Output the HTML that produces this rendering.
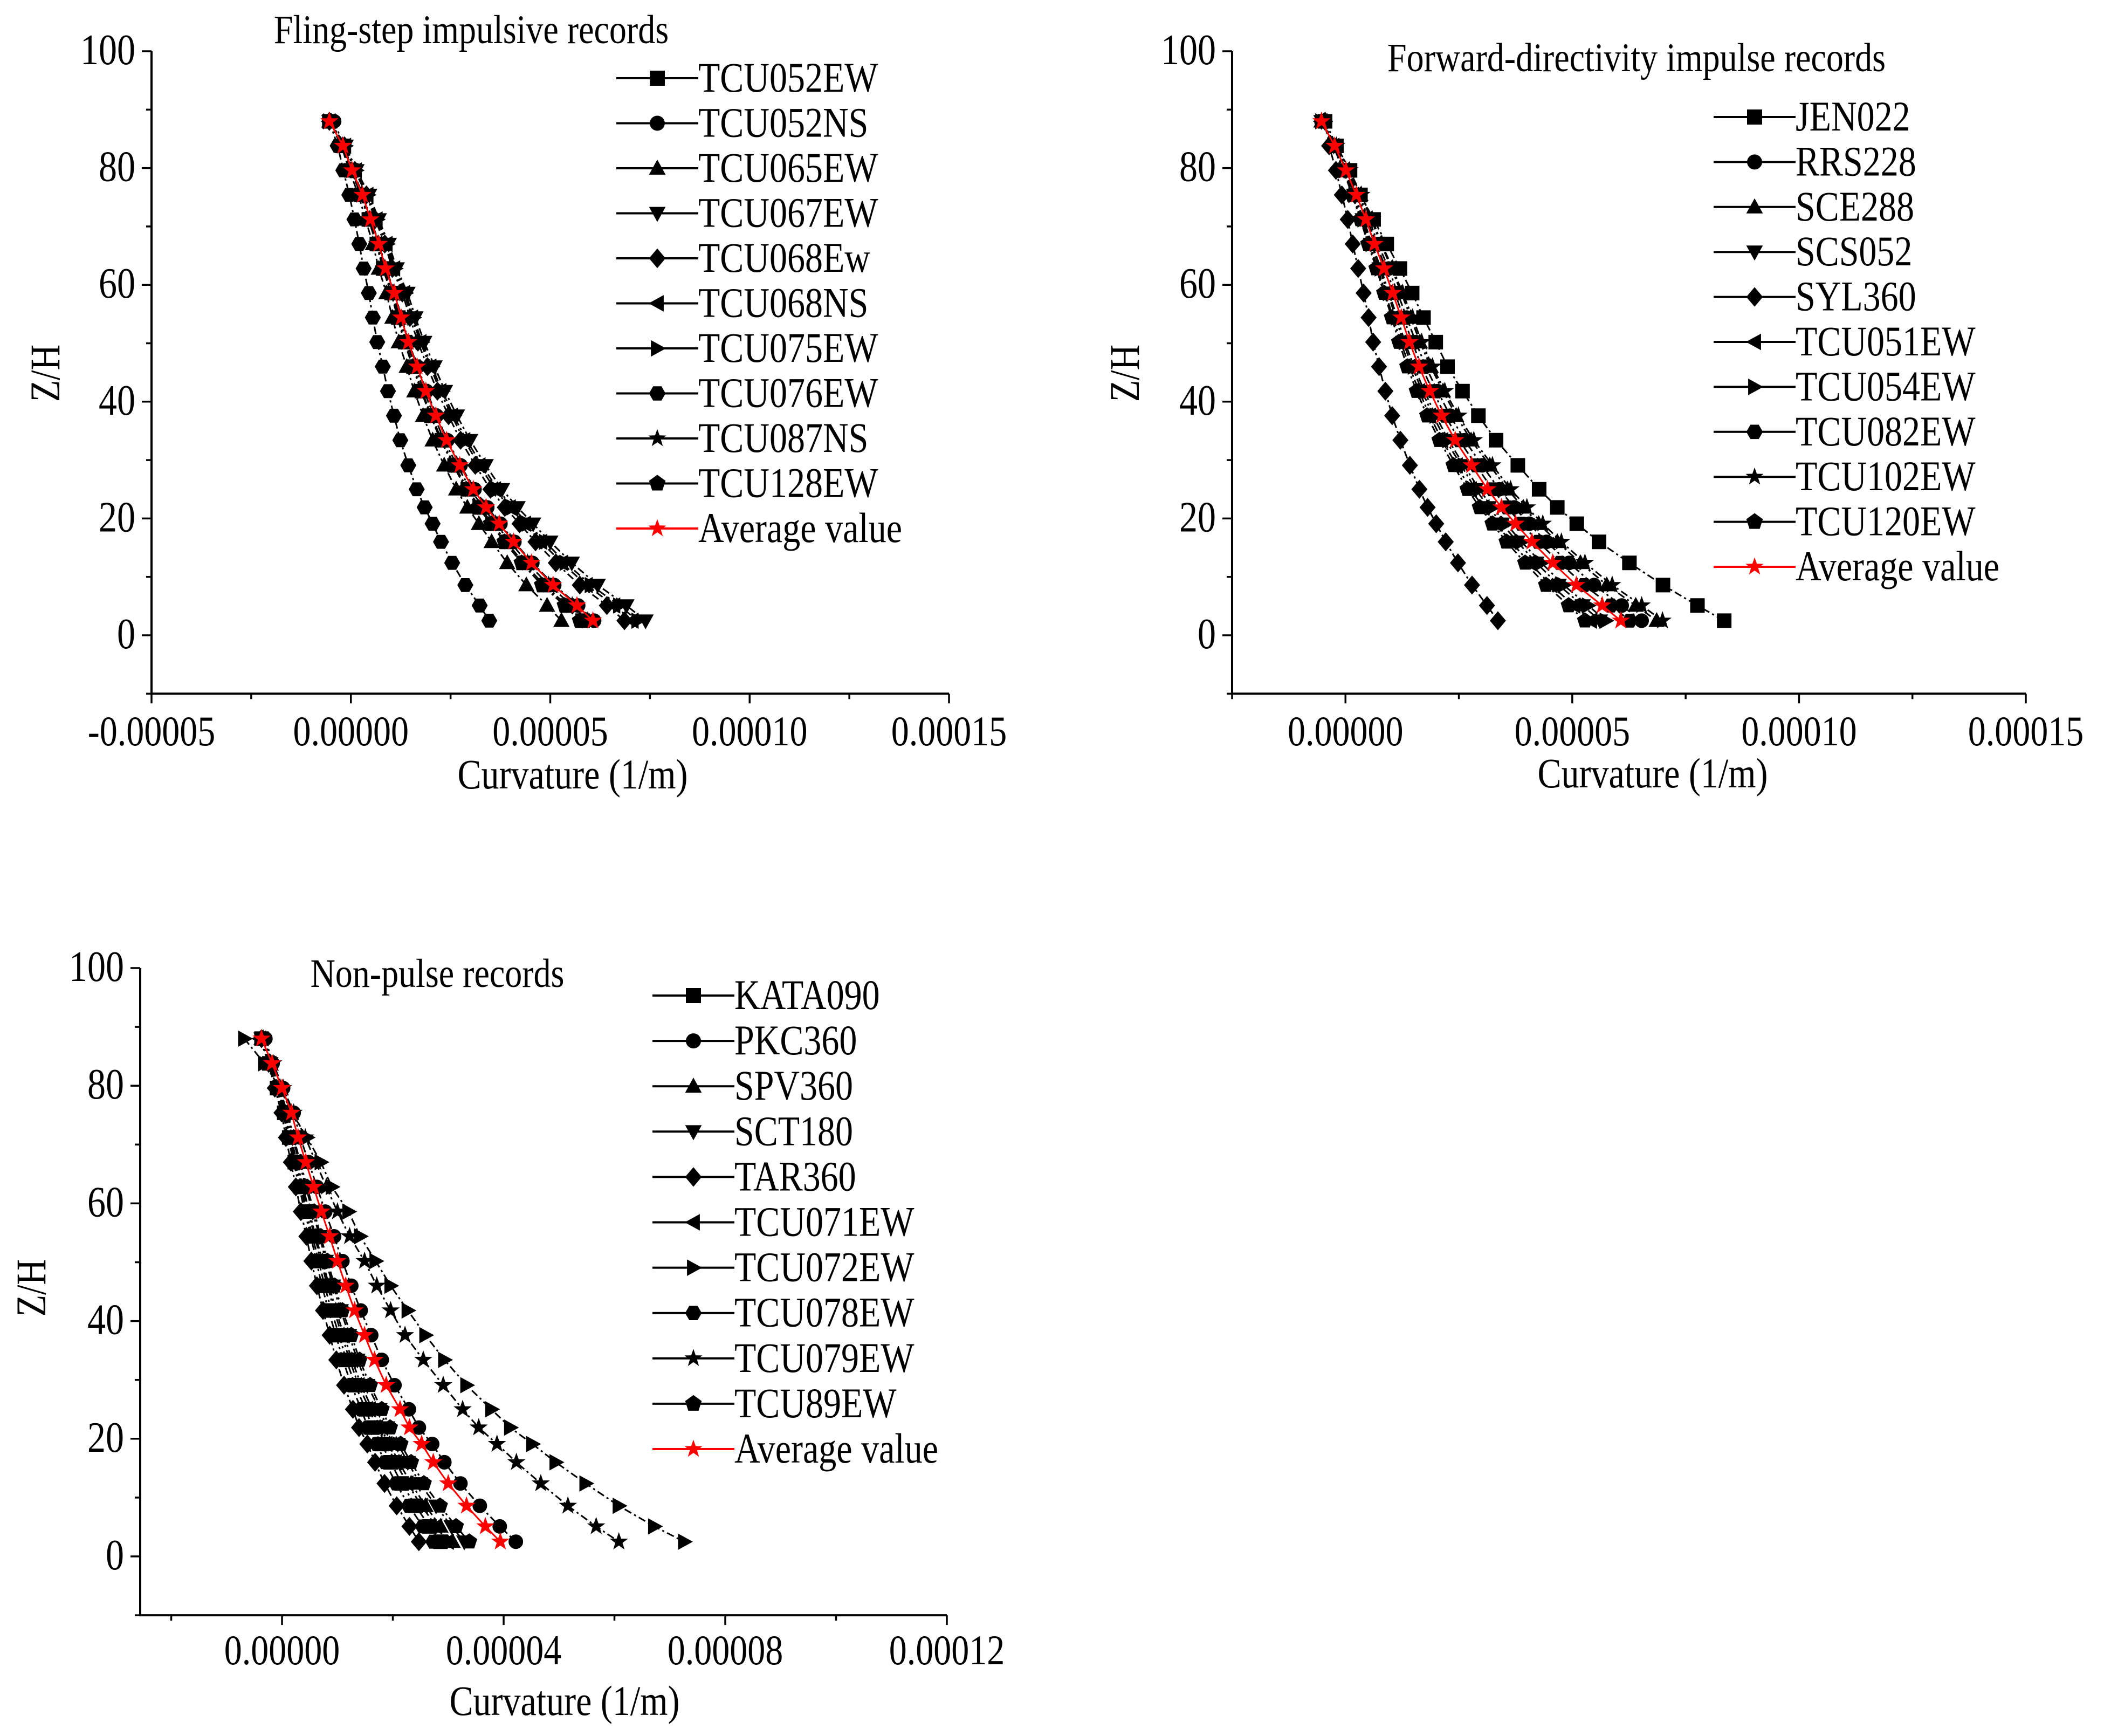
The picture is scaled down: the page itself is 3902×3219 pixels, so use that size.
<!DOCTYPE html>
<html><head><meta charset="utf-8">
<style>
html,body{margin:0;padding:0;background:#fff;}
svg{display:block;}
text{font-family:"Liberation Serif",serif;fill:#000;}
</style></head>
<body>
<svg id="fig" width="3902" height="3219" viewBox="0 0 3902 3219" xmlns="http://www.w3.org/2000/svg"></svg>
<script>
// ---------- data ----------
const zLevels = [88,83.8,79.6,75.4,71.2,67,62.8,58.6,54.4,50.2,46,41.8,37.6,33.4,29.1,25,21.9,19.1,16,12.4,8.6,5.1,2.5];

// Chart 1 (values in 1e-5 1/m)
const c1Names = ["TCU052EW","TCU052NS","TCU065EW","TCU067EW","TCU068Ew","TCU068NS","TCU075EW","TCU076EW","TCU087NS","TCU128EW","Average value"];
const c1TCU052EW = [-0.54,-0.21,0.01,0.26,0.45,0.65,0.81,1.02,1.19,1.36,1.57,1.78,2.02,2.28,2.6,2.93,3.23,3.55,3.9,4.33,4.85,5.42,5.81];
const c1TCU052NS = [-0.42,-0.18,0.05,0.3,0.5,0.71,0.88,1.1,1.27,1.45,1.67,1.9,2.15,2.42,2.75,3.1,3.42,3.75,4.1,4.55,5.1,5.7,6.1];
const c1TCU065EW = [-0.54,-0.24,-0.04,0.19,0.37,0.55,0.7,0.89,1.04,1.2,1.4,1.59,1.81,2.05,2.34,2.64,2.92,3.21,3.53,3.92,4.4,4.92,5.28];
const c1TCU067EW = [-0.54,-0.13,0.14,0.46,0.7,0.95,1.15,1.42,1.62,1.84,2.1,2.36,2.66,2.99,3.38,3.79,4.18,4.57,5.0,5.54,6.19,6.91,7.39];
const c1TCU068Ew = [-0.54,-0.16,0.1,0.39,0.61,0.85,1.04,1.29,1.48,1.68,1.92,2.17,2.45,2.75,3.12,3.5,3.86,4.23,4.63,5.14,5.74,6.42,6.86];
const c1TCU068NS = [-0.54,-0.15,0.12,0.41,0.64,0.89,1.08,1.33,1.53,1.74,1.99,2.24,2.53,2.84,3.22,3.61,3.98,4.36,4.77,5.29,5.91,6.6,7.06];
const c1TCU075EW = [-0.54,-0.14,0.13,0.43,0.66,0.91,1.11,1.37,1.57,1.78,2.03,2.29,2.58,2.9,3.29,3.68,4.06,4.44,4.87,5.39,6.02,6.73,7.19];
const c1TCU076EW = [-0.54,-0.33,-0.19,-0.04,0.09,0.21,0.32,0.45,0.55,0.66,0.8,0.93,1.08,1.24,1.44,1.65,1.85,2.05,2.26,2.54,2.87,3.23,3.47];
const c1TCU087NS = [-0.54,-0.21,0.02,0.27,0.47,0.68,0.84,1.06,1.22,1.4,1.62,1.83,2.08,2.34,2.66,3.0,3.31,3.63,3.99,4.43,4.96,5.55,5.94];
const c1TCU128EW = [-0.5,-0.22,0.0,0.25,0.44,0.64,0.8,1.01,1.17,1.34,1.55,1.76,2.0,2.25,2.57,2.89,3.19,3.51,3.85,4.28,4.79,5.36,5.74];
const c1Average = [-0.54,-0.2,0.03,0.29,0.49,0.7,0.87,1.09,1.26,1.44,1.66,1.88,2.13,2.4,2.73,3.07,3.39,3.72,4.08,4.53,5.07,5.67,6.07];
const c1XTicks = ["-0.00005","0.00000","0.00005","0.00010","0.00015"];
const c1XTickVals = [-5,0,5,10,15];

// Chart 2
const c2Names = ["JEN022","RRS228","SCE288","SCS052","SYL360","TCU051EW","TCU054EW","TCU082EW","TCU102EW","TCU120EW","Average value"];
const c2JEN022 = [-0.45,-0.2,0.1,0.33,0.62,0.91,1.2,1.47,1.72,1.99,2.25,2.58,2.93,3.32,3.8,4.27,4.67,5.1,5.59,6.26,7.0,7.76,8.35];
const c2RRS228 = [-0.53,-0.22,0.05,0.29,0.52,0.72,0.95,1.15,1.35,1.55,1.77,2.03,2.31,2.63,3.01,3.39,3.72,4.05,4.43,4.93,5.48,6.09,6.53];
const c2SCE288 = [-0.53,-0.21,0.07,0.33,0.57,0.78,1.02,1.23,1.44,1.64,1.88,2.15,2.44,2.77,3.18,3.57,3.92,4.26,4.67,5.18,5.76,6.4,6.86];
const c2SCS052 = [-0.53,-0.26,-0.03,0.19,0.38,0.56,0.75,0.93,1.11,1.27,1.47,1.69,1.93,2.21,2.55,2.87,3.16,3.45,3.79,4.21,4.7,5.23,5.61];
const c2SYL360 = [-0.45,-0.36,-0.21,-0.08,0.05,0.16,0.28,0.4,0.51,0.61,0.74,0.88,1.03,1.21,1.42,1.63,1.81,2.0,2.21,2.48,2.79,3.12,3.36];
const c2TCU051EW = [-0.53,-0.27,-0.04,0.16,0.35,0.52,0.71,0.88,1.05,1.22,1.41,1.62,1.86,2.13,2.45,2.76,3.04,3.32,3.65,4.06,4.53,5.04,5.41];
const c2TCU054EW = [-0.53,-0.25,-0.02,0.2,0.4,0.58,0.78,0.96,1.14,1.31,1.51,1.74,1.99,2.27,2.61,2.95,3.24,3.54,3.88,4.32,4.81,5.35,5.74];
const c2TCU082EW = [-0.5,-0.23,0.03,0.26,0.48,0.68,0.89,1.09,1.28,1.47,1.68,1.93,2.2,2.51,2.88,3.24,3.56,3.88,4.25,4.73,5.26,5.85,6.27];
const c2TCU102EW = [-0.53,-0.2,0.09,0.35,0.59,0.8,1.04,1.26,1.48,1.68,1.92,2.19,2.49,2.83,3.24,3.64,4.0,4.35,4.76,5.28,5.88,6.53,6.99];
const c2TCU120EW = [-0.48,-0.27,-0.05,0.15,0.33,0.5,0.68,0.85,1.02,1.18,1.36,1.57,1.8,2.07,2.38,2.69,2.96,3.24,3.55,3.96,4.42,4.92,5.28];
const c2Average = [-0.53,-0.24,0.01,0.24,0.45,0.64,0.85,1.04,1.23,1.41,1.62,1.86,2.12,2.42,2.78,3.13,3.44,3.75,4.11,4.57,5.09,5.66,6.07];
const c2XTicks = ["0.00000","0.00005","0.00010","0.00015"];
const c2XTickVals = [0,5,10,15];

// Chart 3
const c3Names = ["KATA090","PKC360","SPV360","SCT180","TAR360","TCU071EW","TCU072EW","TCU078EW","TCU079EW","TCU89EW","Average value"];
const c3KATA090 = [-0.37,-0.23,-0.09,0.04,0.13,0.23,0.34,0.44,0.55,0.66,0.77,0.89,1.03,1.16,1.32,1.51,1.63,1.8,1.96,2.16,2.41,2.66,2.86];
const c3PKC360 = [-0.3,-0.17,0.02,0.21,0.33,0.48,0.63,0.78,0.94,1.09,1.25,1.42,1.61,1.8,2.03,2.29,2.47,2.71,2.93,3.22,3.57,3.93,4.22];
const c3SPV360 = [-0.37,-0.22,-0.07,0.06,0.16,0.27,0.38,0.49,0.61,0.73,0.85,0.97,1.12,1.26,1.43,1.63,1.77,1.94,2.11,2.33,2.59,2.86,3.08];
const c3SCT180 = [-0.37,-0.21,-0.06,0.09,0.19,0.31,0.43,0.55,0.68,0.79,0.92,1.06,1.21,1.36,1.54,1.76,1.9,2.09,2.27,2.49,2.78,3.06,3.29];
const c3TAR360 = [-0.37,-0.24,-0.13,-0.01,0.07,0.16,0.25,0.34,0.44,0.53,0.63,0.74,0.86,0.98,1.12,1.28,1.39,1.54,1.68,1.85,2.07,2.3,2.47];
const c3TCU071EW = [-0.4,-0.24,-0.08,0.05,0.14,0.25,0.36,0.47,0.59,0.7,0.82,0.94,1.08,1.22,1.38,1.58,1.71,1.88,2.05,2.26,2.52,2.78,2.99];
const c3TCU072EW = [-0.68,-0.32,-0.04,0.18,0.45,0.7,0.9,1.2,1.41,1.69,1.96,2.27,2.59,2.93,3.33,3.78,4.12,4.52,4.94,5.48,6.08,6.72,7.26];
const c3TCU078EW = [-0.37,-0.23,-0.1,0.02,0.11,0.21,0.31,0.41,0.52,0.62,0.72,0.84,0.97,1.1,1.25,1.43,1.55,1.71,1.86,2.06,2.29,2.54,2.73];
const c3TCU079EW = [-0.34,-0.16,0.02,0.21,0.42,0.61,0.8,1.0,1.22,1.49,1.71,1.96,2.22,2.55,2.91,3.26,3.55,3.88,4.23,4.67,5.16,5.67,6.08];
const c3TCU89EW = [-0.35,-0.2,-0.05,0.1,0.21,0.33,0.45,0.58,0.7,0.82,0.95,1.09,1.25,1.4,1.59,1.8,1.95,2.14,2.33,2.56,2.85,3.14,3.38];
const c3Average = [-0.37,-0.18,0,0.17,0.29,0.43,0.57,0.71,0.86,1.0,1.15,1.31,1.49,1.67,1.88,2.13,2.3,2.52,2.73,3.0,3.33,3.67,3.94];
const c3XTicks = ["0.00000","0.00004","0.00008","0.00012"];
const c3XTickVals = [0,4,8,12];

const yTicks = ["0","20","40","60","80","100"];
const yTickVals = [0,20,40,60,80,100];

// ---------- drawing ----------
const NS = "http://www.w3.org/2000/svg";
const svg = document.getElementById('fig');
function mk(tag, attrs, parent){
  const e = document.createElementNS(NS, tag);
  for (const k in attrs) e.setAttribute(k, attrs[k]);
  (parent||svg).appendChild(e);
  return e;
}
// text with vertical stretch (reference glyphs are taller than wide)
function txt(parent, x, y, str, size, anchor, rot){
  const t = mk('text', {x:0, y:0, 'font-size':size, 'text-anchor':anchor,
    transform: rot ? `translate(${x},${y}) rotate(-90) scale(1,1.18)` : `translate(${x},${y}) scale(1,1.18)`}, parent);
  t.textContent = str;
  return t;
}
function markerPath(shape, cx, cy, s){
  const r = s/2;
  switch(shape){
    case 'square': return `M${cx-r},${cy-r}h${s}v${s}h${-s}z`;
    case 'tri-up': return `M${cx},${cy-r*1.15}L${cx+r*1.1},${cy+r*0.85}L${cx-r*1.1},${cy+r*0.85}z`;
    case 'tri-down': return `M${cx},${cy+r*1.15}L${cx+r*1.1},${cy-r*0.85}L${cx-r*1.1},${cy-r*0.85}z`;
    case 'tri-left': return `M${cx-r*1.15},${cy}L${cx+r*0.85},${cy-r*1.1}L${cx+r*0.85},${cy+r*1.1}z`;
    case 'tri-right': return `M${cx+r*1.15},${cy}L${cx-r*0.85},${cy-r*1.1}L${cx-r*0.85},${cy+r*1.1}z`;
    case 'diamond': return `M${cx},${cy-r*1.3}L${cx+r*1.1},${cy}L${cx},${cy+r*1.3}L${cx-r*1.1},${cy}z`;
    case 'star': { let d=''; for(let i=0;i<10;i++){const a=-Math.PI/2+i*Math.PI/5; const rr=i%2?r*0.5:r*1.25; d+=(i?'L':'M')+(cx+rr*Math.cos(a)).toFixed(1)+','+(cy+rr*Math.sin(a)).toFixed(1);} return d+'z'; }
    case 'hexagon': { let d=''; for(let i=0;i<6;i++){const a=i*Math.PI/3; d+=(i?'L':'M')+(cx+r*1.1*Math.cos(a)).toFixed(1)+','+(cy+r*1.1*Math.sin(a)).toFixed(1);} return d+'z'; }
    case 'pentagon': { let d=''; for(let i=0;i<5;i++){const a=-Math.PI/2+i*2*Math.PI/5; d+=(i?'L':'M')+(cx+r*1.15*Math.cos(a)).toFixed(1)+','+(cy+r*1.15*Math.sin(a)).toFixed(1);} return d+'z'; }
    default: return `M${cx-r},${cy}a${r},${r} 0 1,0 ${s},0a${r},${r} 0 1,0 ${-s},0`;
  }
}
const shapes = ['square','circle','tri-up','tri-down','diamond','tri-left','tri-right','hexagon','star','pentagon','star'];

function drawChart(cfg){
  const g = mk('g', {});
  
  
  const xS = v => cfg.x0 + (v - cfg.xmin) / (cfg.xmax - cfg.xmin) * (cfg.x1 - cfg.x0);
  const yS = v => cfg.yZero - v * cfg.pxPerUnit;
  const yBottom = yS(-10), yTop = yS(100);
  const ya = mk('line', {x1:cfg.x0, y1:yTop, x2:cfg.x0, y2:yBottom, stroke:'#000','stroke-width':4}, g);
  
  
  const xa = mk('line', {x1:cfg.x0-2, y1:yBottom, x2:cfg.x1, y2:yBottom, stroke:'#000','stroke-width':4}, g);
  
  
  for (let v=-10; v<=100; v+=10){
    const major = v%20===0;
    mk('line', {x1:cfg.x0-(major?18:10), y1:yS(v), x2:cfg.x0, y2:yS(v), stroke:'#000','stroke-width':3.5}, g);
  }
  yTicks.forEach((lab,i)=>{
    const t = txt(g, cfg.x0-30, yS(yTickVals[i])+24, lab, 68, 'end');
    
    
  });
  for (let v=cfg.minorStart; v<=cfg.xmax+1e-9; v+=cfg.minorStep){
    const isMajor = cfg.xTickVals.some(m=>Math.abs(m-v)<1e-6);
    mk('line', {x1:xS(v), y1:yBottom, x2:xS(v), y2:yBottom+(isMajor?18:10), stroke:'#000','stroke-width':3.5}, g);
  }
  cfg.xTicks.forEach((lab,i)=>{
    const t = txt(g, xS(cfg.xTickVals[i]), cfg.xLabY, lab, 66, 'middle');
    
    
  });
  const xt = txt(g, cfg.xTitleX, cfg.xTitleY, 'Curvature (1/m)', 66, 'middle');
  
  
  const yt = txt(g, cfg.yTitleX, cfg.yTitleY, 'Z/H', 66, 'middle', true);
  
  
  const tt = txt(g, cfg.titleX, cfg.titleY, cfg.title, 64, 'middle');
  
  
  cfg.series.forEach((vals, si)=>{
    const isAvg = si === cfg.series.length-1;
    const col = isAvg ? '#ff0000' : '#000';
    const sg = mk('g', {}, g);
    
    
    const pts = vals.map((v,i)=>xS(v).toFixed(1)+','+yS(zLevels[i]).toFixed(1)).join(' ');
    const pl = mk('polyline', {points:pts, fill:'none', stroke:col, 'stroke-width':3, 'stroke-dasharray': isAvg?'none':'14,6,4,6'}, sg);
    
    
    vals.forEach((v,i)=>{
      const m = mk('path', {d:markerPath(shapes[si], xS(v), yS(zLevels[i]), 26), fill:col, stroke: isAvg?'#ff0000':'#000', 'stroke-width':1}, sg);
      
      
    });
    const ly = cfg.legY + si*cfg.legStep;
    const lg = mk('g', {}, g);
    
    
    mk('line', {x1:cfg.legX, y1:ly, x2:cfg.legX+152, y2:ly, stroke:col, 'stroke-width':4}, lg);
    mk('path', {d:markerPath(shapes[si], cfg.legX+76, ly, 28), fill:col}, lg);
    const lt = txt(lg, cfg.legX+152, ly+25, cfg.names[si], 66, 'start');
    
    
  });
}

drawChart({id:'chart-fling-step', title:'Fling-step impulsive records', titleX:874, titleY:80,
  x0:281, x1:1760, xmin:-5, xmax:15, yZero:1178, pxPerUnit:10.83,
  minorStart:-5, minorStep:2.5, xTicks:c1XTicks, xTickVals:c1XTickVals, xLabY:1382,
  xTitleX:1062, xTitleY:1462, yTitleX:110, yTitleY:692,
  legX:1143, legY:145, legStep:83.5, names:c1Names,
  series:[c1TCU052EW,c1TCU052NS,c1TCU065EW,c1TCU067EW,c1TCU068Ew,c1TCU068NS,c1TCU075EW,c1TCU076EW,c1TCU087NS,c1TCU128EW,c1Average]});

drawChart({id:'chart-forward-directivity', title:'Forward-directivity impulse records', titleX:3035, titleY:132,
  x0:2285, x1:3757, xmin:-2.5, xmax:15, yZero:1178, pxPerUnit:10.83,
  minorStart:-2.5, minorStep:2.5, xTicks:c2XTicks, xTickVals:c2XTickVals, xLabY:1382,
  xTitleX:3065, xTitleY:1460, yTitleX:2112, yTitleY:692,
  legX:3178, legY:217, legStep:83.4, names:c2Names,
  series:[c2JEN022,c2RRS228,c2SCE288,c2SCS052,c2SYL360,c2TCU051EW,c2TCU054EW,c2TCU082EW,c2TCU102EW,c2TCU120EW,c2Average]});

drawChart({id:'chart-non-pulse', title:'Non-pulse records', titleX:811, titleY:1830,
  x0:260, x1:1756, xmin:-2.56, xmax:12, yZero:2886, pxPerUnit:10.91,
  minorStart:-2, minorStep:2, xTicks:c3XTicks, xTickVals:c3XTickVals, xLabY:3086,
  xTitleX:1047, xTitleY:3180, yTitleX:84, yTitleY:2388,
  legX:1210, legY:1846, legStep:84.1, names:c3Names,
  series:[c3KATA090,c3PKC360,c3SPV360,c3SCT180,c3TAR360,c3TCU071EW,c3TCU072EW,c3TCU078EW,c3TCU079EW,c3TCU89EW,c3Average]});
</script>
</body></html>
